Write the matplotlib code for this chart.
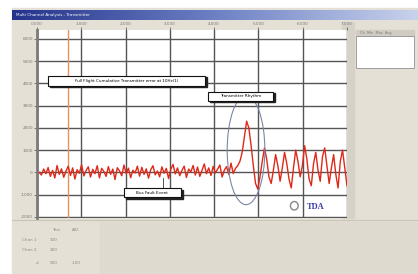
import matplotlib.pyplot as plt
import numpy as np
from matplotlib.patches import Rectangle, Ellipse
from matplotlib.colors import LinearSegmentedColormap

# signal samples (evenly spaced over the time axis)
signal = [0, -120, 150, -60, 220, -180, 90, -250, 310, -90,
          160, -220, 60, 280, -140, 200, -300, 120, -40, 350,
          -160, 80, 250, -210, 140, -60, 300, -250, 180, 40,
          -180, 260, -90, 150, -320, 210, 70, -150, 330, -60,
          190, -240, 100, -30, 280, -170, 230, -90, 160, -260,
          120, 300, -110, 60, -200, 250, -40, 180, -280, 140,
          360, -70, 200, -150, 90, 280, -230, 150, 20, 310,
          -120, 240, -180, 90, 380, -60, 200, -140, 270, -30,
          150, 330, -210, 100, 260, -90, 420, -50, 180, 300,
          500, 900, 1600, 2300, 2000, 1200, 300, -500, -750, -200,
          500, 1100, 600, -200, -500, 100, 800, 300, -400, 200,
          900, 400, -300, -700, 200, 1000, 500, -200, 300, 1200,
          600, -300, -600, 400, 900, 100, -400, 700, 1100, 300,
          -500, 200, 800, -100, -700, 500, 1000, 200, -600]
t = np.linspace(0.05, 7, len(signal))

y_ticks = [-2000, -1000, 0, 1000, 2000, 3000, 4000, 5000, 6000]
y_labels = ['-2000', '-1000', '0', '1000', '2000', '3000', '4000', '5000', '6000']
x_ticks = [0, 1, 2, 3, 4, 5, 6, 7]
x_labels = ['0.000', '1.000', '2.000', '3.000', '4.000', '5.000', '6.000', '7.000']
marker_t = 0.7

note1 = 'Full Flight Cumulative Transmitter error at 10Hz(1)'
note2 = 'Transmitter Rhythm'
note3 = 'Bus Fault Event'

W, H = 418, 274
fig = plt.figure(figsize=(W / 100, H / 100), dpi=100, facecolor='white')

# window chrome drawn in pixel units
bg = fig.add_axes([0, 0, 1, 1])
bg.axis('off')
bg.add_patch(Rectangle((12, 8), W - 12, H - 8, color='#e4e0d6'))
grad = np.linspace(0, 1, 200).reshape(1, -1)
cm = LinearSegmentedColormap.from_list('tb', ['#24348c', '#6c80c4', '#c8d2ec'])
bg.imshow(grad, extent=(12, W, 20, 10), cmap=cm, aspect='auto', zorder=1)
bg.text(16, 15, 'Multi Channel Analysis - Transmitter', color='white', fontsize=3, va='center', zorder=2)
bg.set_xlim(0, W)
bg.set_ylim(H, 0)
bg.add_patch(Rectangle((100, 222), W - 100, H - 222, color='#dedad0'))
bg.plot([12, W], [220, 220], color='#c8c4ba', lw=0.8)
bg.add_patch(Rectangle((342, 22), 12, 196, color='#d6d2c8'))
bg.add_patch(Rectangle((356, 30), 58, 6, color='#d0ccc4'))
bg.text(360, 33, 'Ch  Min  Max  Avg', fontsize=2.5, color='#777777', va='center')
bg.add_patch(Rectangle((356, 36), 58, 32, facecolor='white', edgecolor='#909090', lw=0.6))

# bottom-left table
tbl = [(52, 230, 'Test'), (72, 230, 'A/D'),
       (22, 240, 'Chan 1'), (50, 240, '100'),
       (22, 250, 'Chan 2'), (50, 250, '200'),
       (36, 263, 'd'), (50, 263, '500'), (72, 263, '1.00')]
for px, py, s in tbl:
    bg.text(px, py, s, fontsize=3, color='#8a8a8a', va='center')

ax = fig.add_axes([37 / W, 1 - 218 / H, 310 / W, 188 / H])
ax.set_facecolor('white')
ax.set_xlim(0, 7)
ax.set_ylim(-2050, 6400)
ax.set_xticks(x_ticks)
ax.set_yticks(y_ticks)
ax.set_yticklabels(y_labels, fontsize=3, color='#777777')
ax.xaxis.tick_top()
ax.set_xticklabels(x_labels, fontsize=3, color='#777777')
ax.tick_params(length=2, width=0.6, color='#666666', pad=1)
ax.grid(True, color='#555555', lw=1.0)
for s in ['top', 'right', 'bottom']:
    ax.spines[s].set_visible(False)
ax.spines['left'].set_color('#7a7a7a')
ax.spines['left'].set_linewidth(2)

ax.axvline(marker_t, color='#e89060', lw=1.0)
ax.plot(t, signal, color='#e02818', lw=1.0, zorder=3)

# peak ellipse
ax.add_patch(Ellipse((4.72, 1000), 0.85, 4900, fill=False, edgecolor='#7a86a6', lw=0.8, zorder=4))


def note(x0, x1, y0, y1, text):
    ax.add_patch(Rectangle((x0 + 0.04, y0 - 80), x1 - x0, y1 - y0, color='#222222', zorder=5))
    ax.add_patch(Rectangle((x0, y0), x1 - x0, y1 - y0, facecolor='white', edgecolor='#111111', lw=0.8, zorder=6))
    ax.text((x0 + x1) / 2, (y0 + y1) / 2, text, fontsize=3, ha='center', va='center', zorder=7)


note(0.25, 3.79, 3900, 4350, note1)
ax.plot([4.72, 4.72], [3230, 3450], color='#333333', lw=0.6, zorder=4)
note(3.86, 5.33, 3230, 3630, note2)
ax.plot([2.85, 2.85], [-720, -250], color='#333333', lw=0.6, zorder=4)
note(1.96, 3.25, -1120, -720, note3)

# logo
ax.text(0.9, 0.06, 'TDA', transform=ax.transAxes, fontsize=6, fontweight='bold',
        color='#3838a8', ha='center', va='center', family='Liberation Serif', zorder=8)
ax.add_patch(Ellipse((0.83, 0.065), 0.025, 0.045, transform=ax.transAxes, fill=False,
                     edgecolor='#888888', lw=1.0, zorder=8))

fig.savefig('out.png', dpi=100)
